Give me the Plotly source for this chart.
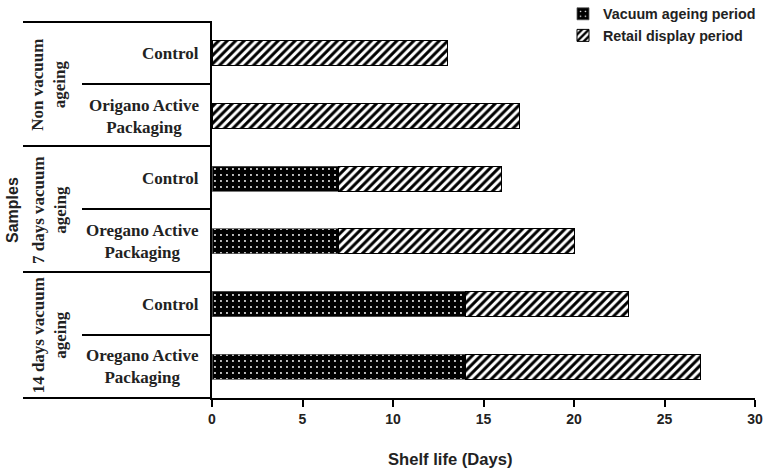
import plotly.graph_objects as go

# Data
groups = ["Non vacuum<br>ageing", "7 days vacuum<br>ageing", "14 days vacuum<br>ageing"]
samples = ["Control", "Origano Active<br>Packaging", "Control", "Oregano Active<br>Packaging",
           "Control", "Oregano Active<br>Packaging"]
vacuum_days = [0, 0, 7, 7, 14, 14]
retail_days = [13, 17, 9, 13, 9, 13]
x_ticks = [0, 5, 10, 15, 20, 25, 30]

W, H = 765, 472
L, R, T, B = 212, 10, 22, 74
pw, ph = W - L - R, H - T - B

def px(x):
    return (x - L) / pw

def py(y):
    return (H - B - y) / ph

rows = list(range(len(samples)))

fig = go.Figure()
fig.add_trace(go.Bar(
    y=rows, x=vacuum_days, orientation="h", name="Vacuum ageing period",
    width=0.4,
    marker=dict(color="black", line=dict(color="#555", width=0.8),
                pattern=dict(shape=".", fgcolor="white", bgcolor="black",
                             size=6, solidity=0.08, fillmode="replace")),
))
fig.add_trace(go.Bar(
    y=rows, x=retail_days, orientation="h", name="Retail display period",
    width=0.4,
    marker=dict(color="white", line=dict(color="black", width=1),
                pattern=dict(shape="/", fgcolor="black", bgcolor="white",
                             size=6, solidity=0.5, fillmode="replace")),
))

shapes = []
line = dict(color="black", width=2)
for yy in [22, 146, 272, 398]:
    shapes.append(dict(type="line", xref="paper", yref="paper",
                       x0=px(23), x1=px(212), y0=py(yy), y1=py(yy), line=line))
for yy in [84, 209, 335]:
    shapes.append(dict(type="line", xref="paper", yref="paper",
                       x0=px(82), x1=px(212), y0=py(yy), y1=py(yy), line=line))

annotations = []
serif = "Liberation Serif"
row_h = (398 - 22) / 6
for i, s in enumerate(samples):
    cy = 22 + row_h * (i + 0.5)
    annotations.append(dict(text="<b>%s</b>" % s, xref="paper", yref="paper",
                            x=px(201), y=py(cy), xanchor="right", yanchor="middle",
                            showarrow=False, align="center",
                            font=dict(family=serif, size=17, color="#222")))
for g, gname in enumerate(groups):
    cy = 22 + row_h * (2 * g + 1)
    annotations.append(dict(text="<b>%s</b>" % gname, xref="paper", yref="paper",
                            x=px(49), y=py(cy), xanchor="center", yanchor="middle",
                            showarrow=False, textangle=-90, align="center",
                            font=dict(family=serif, size=17, color="#222")))
annotations.append(dict(text="<b>Samples</b>", xref="paper", yref="paper",
                        x=px(12), y=py(210), xanchor="center", yanchor="middle",
                        showarrow=False, textangle=-90,
                        font=dict(family="Liberation Sans", size=16, color="#222")))
annotations.append(dict(text="<b>Shelf life (Days)</b>", xref="paper", yref="paper",
                        x=px(450), y=py(460), xanchor="center", yanchor="middle",
                        showarrow=False,
                        font=dict(family="Liberation Sans", size=16.6, color="#222")))

fig.update_layout(
    barmode="stack",
    width=W, height=H,
    margin=dict(l=L, r=R, t=T, b=B, autoexpand=False),
    paper_bgcolor="white", plot_bgcolor="white",
    shapes=shapes, annotations=annotations,
    showlegend=True,
    legend=dict(x=px(563), y=py(-2), xanchor="left", yanchor="top",
                traceorder="normal",
                font=dict(family="Liberation Sans", size=14.3, color="#222", weight="bold"),
                bgcolor="rgba(0,0,0,0)", itemwidth=30, tracegroupgap=0),
    xaxis=dict(range=[0, 30], tickvals=x_ticks, ticks="outside", ticklen=7,
               tickcolor="black", tickwidth=1.5, showline=True, linecolor="black",
               linewidth=2, showgrid=False, zeroline=False,
               tickfont=dict(family="Liberation Sans", size=14, color="#222", weight="bold")),
    yaxis=dict(range=[5.5, -0.5], showticklabels=False, ticks="", showgrid=False,
               zeroline=False, showline=True, linecolor="black", linewidth=2),
)

fig.write_html("out.html", config={"displayModeBar": False},
               post_script="document.body.style.margin='0';document.body.style.overflow='hidden';")
